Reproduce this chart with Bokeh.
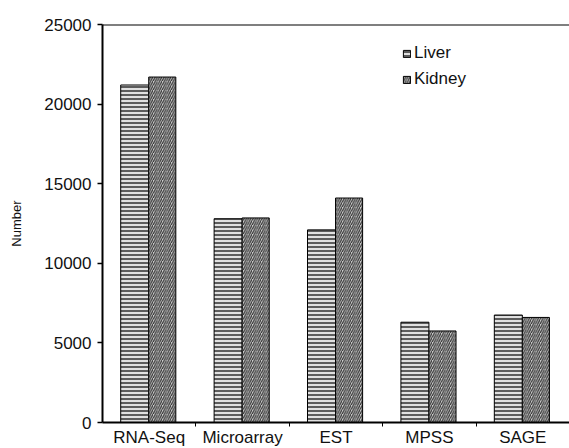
import numpy as np
from bokeh.plotting import figure
from bokeh.models import FixedTicker, Span, Legend, LegendItem, Range1d
from bokeh.embed import file_html
from bokeh.resources import INLINE

categories = ["RNA-Seq", "Microarray", "EST", "MPSS", "SAGE"]
liver = [21200, 12800, 12100, 6300, 6750]
kidney = [21700, 12850, 14100, 5750, 6600]
y_ticks = [0, 5000, 10000, 15000, 20000, 25000]

FONT = "Liberation Sans"
idx = np.arange(len(categories))

p = figure(frame_width=467, frame_height=398, width=569, height=448,
           output_backend="svg", toolbar_location=None,
           x_range=Range1d(0, len(categories)), y_range=Range1d(0, 25000),
           min_border_left=102, min_border_top=24, min_border_right=0, min_border_bottom=0)
p.outline_line_color = None
p.grid.visible = False
p.background_fill_color = "white"

r1 = p.vbar(x=idx + 0.345, top=liver, width=0.3, bottom=0,
            fill_color="#e0e0e0", line_color="black", line_width=1,
            hatch_pattern="horizontal_line", hatch_color="#222222", hatch_scale=4, hatch_weight=1.4)
r2 = p.vbar(x=idx + 0.64, top=kidney, width=0.29, bottom=0,
            fill_color="#cccccc", line_color="black", line_width=1,
            hatch_pattern="right_diagonal_line", hatch_color="#333333", hatch_scale=4.5, hatch_weight=1.2)

p.add_layout(Span(location=25000, dimension="width", line_color="black", line_width=2))

xa = p.xaxis[0]
xa.ticker = FixedTicker(ticks=list(idx + 0.5), minor_ticks=list(idx[1:]))
xa.major_label_overrides = {float(i + 0.5): c for i, c in enumerate(categories)}
xa.major_tick_line_color = None
xa.major_tick_out = 0
xa.minor_tick_out = 4
xa.minor_tick_in = 0
xa.minor_tick_line_color = "black"
xa.axis_line_width = 2
xa.major_label_text_font = FONT
xa.major_label_text_font_size = "17px"
xa.major_label_text_color = "#111111"
xa.major_label_standoff = 1

ya = p.yaxis[0]
ya.ticker = FixedTicker(ticks=y_ticks)
ya.minor_tick_line_color = None
ya.major_tick_out = 5
ya.major_tick_in = 0
ya.axis_line_width = 2
ya.major_tick_line_width = 1.5
ya.major_label_text_font = FONT
ya.major_label_text_font_size = "17px"
ya.major_label_text_color = "#111111"
ya.major_label_standoff = 6
ya.axis_label = "Number"
ya.axis_label_text_font = FONT
ya.axis_label_text_font_size = "13px"
ya.axis_label_text_font_style = "normal"
ya.axis_label_text_color = "#111111"
ya.axis_label_standoff = 17

legend = Legend(items=[LegendItem(label="Liver", renderers=[r1]),
                       LegendItem(label="Kidney", renderers=[r2])],
                location=(300, 333))
legend.border_line_color = None
legend.background_fill_alpha = 0
legend.padding = 0
legend.margin = 0
legend.spacing = 6
legend.glyph_width = 9
legend.glyph_height = 9
legend.label_standoff = 3
legend.label_text_font = FONT
legend.label_text_font_size = "17px"
legend.label_text_color = "#111111"
legend.label_height = 20
p.add_layout(legend)

open("out.html", "w").write(file_html(p, INLINE))
